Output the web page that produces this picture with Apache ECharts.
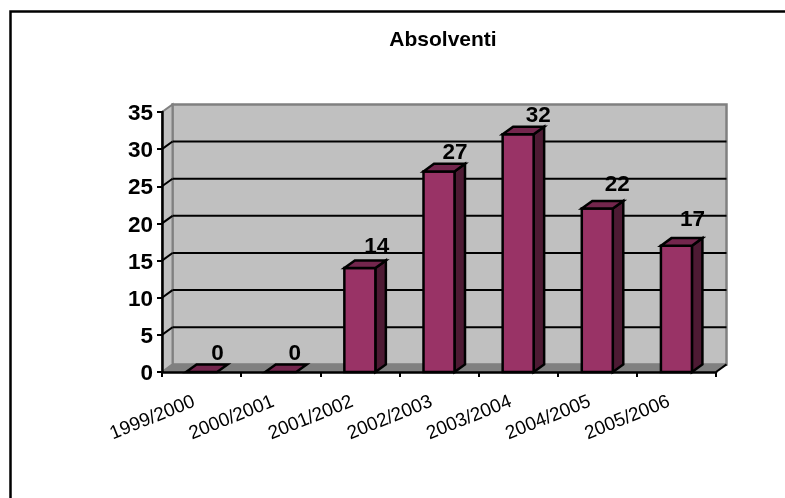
<!DOCTYPE html>
<html><head><meta charset="utf-8">
<style>html,body{margin:0;padding:0;background:#fff}#c{width:785px;height:498px}</style>
<script src="https://cdn.jsdelivr.net/npm/echarts@6/dist/echarts.min.js"></script>
</head><body><div id="c"></div>
<script>
const categories = ['1999/2000','2000/2001','2001/2002','2002/2003','2003/2004','2004/2005','2005/2006'];
const absolventi = [0,0,14,27,32,22,17];
const yTicks = [0,5,10,15,20,25,30,35];
const titleText = 'Absolventi';
const FONT = '"Liberation Sans", Arial, sans-serif';
const DX = 10.5, DY = -7.6, BAR_W = 31;
const labelNudgeX = [16,14,17,16,20,20,16];
const labelNudgeY = [-18,-18,-21,-19,-18,-24,-26];

const chart = echarts.init(document.getElementById('c'));

function poly(points, fill, stroke, lw){
  return {type:'polygon', shape:{points}, style:{fill, stroke: stroke||'none', lineWidth: lw||0, lineJoin:'miter'}};
}
function line(x1,y1,x2,y2,stroke,lw){
  return {type:'line', shape:{x1,y1,x2,y2}, style:{stroke, lineWidth:lw}};
}
function renderBack(params, api){
  const r = params.coordSys;
  const x0=r.x, x1=r.x+r.width, yb=r.y+r.height, yt=r.y;
  const kids = [
    poly([[x0+DX,yt+DY],[x1+DX,yt+DY],[x1+DX,yb+DY],[x0+DX,yb+DY]],'#c0c0c0','#808080',2.5),
    poly([[x0,yt],[x0+DX,yt+DY],[x0+DX,yb+DY],[x0,yb]],'#c0c0c0','#808080',2),
    poly([[x0,yb],[x0+DX,yb+DY],[x1+DX,yb+DY],[x1,yb]],'#808080','#808080',1)
  ];
  yTicks.forEach(v=>{
    if(v===0||v===35) return;
    const y=api.coord([categories[0],v])[1];
    kids.push(line(x0,y,x0+DX,y+DY,'#000',2));
    kids.push(line(x0+DX,y+DY,x1+DX,y+DY,'#000',2));
  });
  kids.push(line(x1,yb,x1+DX,yb+DY,'#000',2));
  return {type:'group',children:kids};
}
function renderBar(params, api){
  const val = api.value(1);
  const p = api.coord([api.value(0),val]);
  const base = api.coord([api.value(0),0]);
  const l=p[0]-BAR_W/2, rr=p[0]+BAR_W/2, t=p[1], b=base[1];
  const S='#000', W=2.5;
  const kids=[];
  if(val>0){
    kids.push(poly([[rr,t],[rr+DX,t+DY],[rr+DX,b+DY],[rr,b]],'#4d1a33',S,W));
    kids.push(poly([[l,b],[l,t],[rr,t],[rr,b]],'#993366',S,W));
  }
  kids.push(poly([[l,t],[l+DX,t+DY],[rr+DX,t+DY],[rr,t]],'#73264d',S,W));
  kids.push({type:'text',z2:10,style:{text:String(val),x:p[0]+labelNudgeX[params.dataIndex],y:p[1]+labelNudgeY[params.dataIndex],
    align:'center',verticalAlign:'middle',fill:'#000',font:'bold 22.5px '+FONT}});
  return {type:'group',children:kids};
}
chart.setOption({
  animation:false,
  backgroundColor:'#fff',
  graphic:[{type:'rect',z:0,shape:{x:10.5,y:11.5,width:900,height:700},style:{fill:'#fff',stroke:'#000',lineWidth:2.5}}],
  title:{text:titleText,left:438,top:25,textAlign:'center',textStyle:{fontFamily:FONT,fontWeight:'bold',fontSize:21,color:'#000'}},
  grid:{left:162,right:69,top:112,bottom:126,containLabel:false},
  xAxis:{type:'category',data:categories,z:5,
    axisLine:{lineStyle:{color:'#000',width:2.5}},
    axisTick:{show:true,length:5,lineStyle:{color:'#000',width:2}},
    axisLabel:{rotate:22,margin:26,interval:0,padding:[0,8,0,0],fontFamily:FONT,fontSize:19,color:'#000'}},
  yAxis:{type:'value',min:0,max:35,interval:5,z:5,
    axisLine:{show:true,lineStyle:{color:'#000',width:2.5}},
    axisTick:{show:true,length:5,lineStyle:{color:'#000',width:2}},
    splitLine:{show:false},
    axisLabel:{margin:9,formatter:'{a|{value}}',
      rich:{a:{padding:[4,0,0,0],fontFamily:FONT,fontWeight:'bold',fontSize:22.5,color:'#000'}}}},
  series:[
    {type:'custom',name:'back',coordinateSystem:'cartesian2d',z:1,silent:true,data:[[0,0]],renderItem:renderBack,clip:false},
    {type:'custom',name:'Absolventi',coordinateSystem:'cartesian2d',z:3,data:absolventi.map((v,i)=>[i,v]),encode:{x:0,y:1},renderItem:renderBar,clip:false}
  ]
});
</script></body></html>
